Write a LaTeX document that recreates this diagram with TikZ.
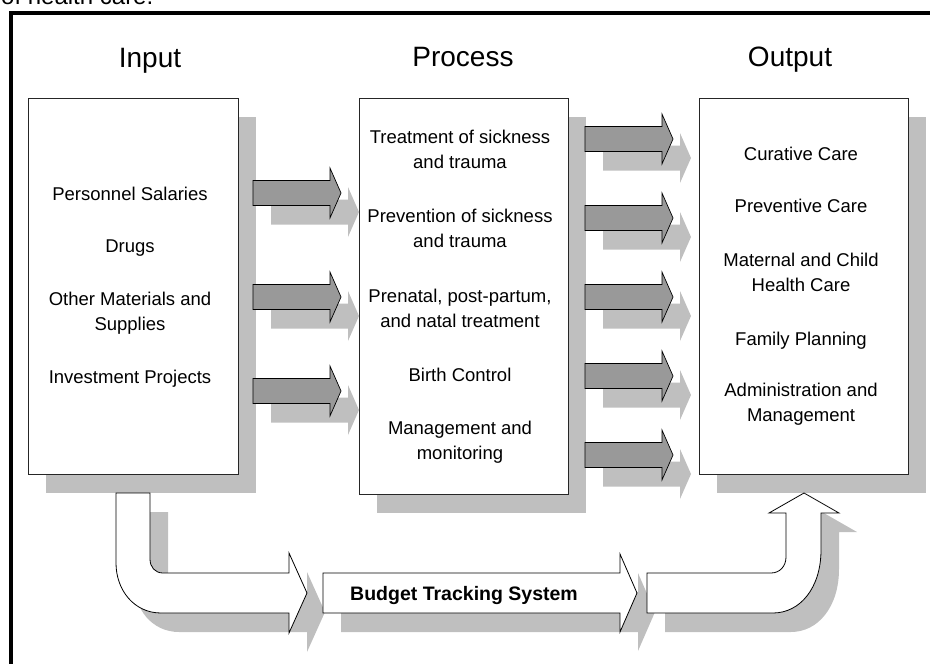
\documentclass[tikz,border=0pt]{standalone}
\usepackage{fontspec}
\setmainfont{Liberation Sans}
\usetikzlibrary{shadows}
\definecolor{shadegray}{gray}{0.75}
\definecolor{arrowgray}{gray}{0.6}
\tikzset{
  casting/.style={drop shadow={shadow xshift=18pt, shadow yshift=-19pt, fill=shadegray, opacity=1}},
  stage/.style={draw=black!85, fill=white, line width=0.8pt, inner sep=0pt, casting},
  heading/.style={anchor=north, inner sep=0pt, font=\fontsize{28}{34}\selectfont},
  entry/.style={anchor=north, inner sep=0pt, align=center, font=\fontsize{18.5}{24.5}\selectfont},
  flowarrow/.style={draw=black, line width=0.7pt, fill=arrowgray, casting},
  bigarrow/.style={draw=black, line width=0.8pt, fill=white, casting},
  flow/.pic={\path[flowarrow] (0,-12.5) -- (77,-12.5) -- (77,-25) -- (88,0) -- (77,25) -- (77,12.5) -- (0,12.5) -- cycle;}
}
\begin{document}
\begin{tikzpicture}[x=1pt, y=-1pt]
  \useasboundingbox (0,0) rectangle (930,664);
  \node[anchor=base west, inner sep=0pt, font=\fontsize{24}{28}\selectfont] (caption) at (1,4) {of health care.};
  \draw[line width=4pt] (11,700) -- (11,13) -- (960,13);

  \node[stage, minimum width=210pt, minimum height=376pt] (input) at (133,286) {};
  \node[stage, minimum width=209pt, minimum height=396pt] (process) at (463.5,296) {};
  \node[stage, minimum width=209pt, minimum height=376pt] (output) at (803.5,286) {};

  \node[heading] (inputhead) at (150,48) {Input};
  \node[heading] (processhead) at (463,47) {Process};
  \node[heading] (outputhead) at (790,47) {Output};

  \node[entry] (salaries) at (130,187) {Personnel Salaries};
  \node[entry] (drugs) at (130,240) {Drugs};
  \node[entry] (supplies) at (130,292) {Other Materials and\\Supplies};
  \node[entry] (projects) at (130,370) {Investment Projects};

  \node[entry] (treatment) at (460,130) {Treatment of sickness\\and trauma};
  \node[entry] (prevention) at (460,209) {Prevention of sickness\\and trauma};
  \node[entry] (prenatal) at (460,289) {Prenatal, post-partum,\\and natal treatment};
  \node[entry] (birth) at (460,368) {Birth Control};
  \node[entry] (monitoring) at (460,421) {Management and\\monitoring};

  \node[entry] (curative) at (801,147) {Curative Care};
  \node[entry] (preventive) at (801,199) {Preventive Care};
  \node[entry] (maternal) at (801,253) {Maternal and Child\\Health Care};
  \node[entry] (family) at (801,332) {Family Planning};
  \node[entry] (admin) at (801,383) {Administration and\\Management};

  \foreach \y in {193,297,391} \pic at (253,\y) {flow};
  \foreach \y in {139,218,297,376,455} \pic at (585,\y) {flow};

  \path[bigarrow] (116,493) -- (116,563) .. controls (116,590) and (134,613) .. (161,613) -- (289,613) -- (289,633) -- (307,593) -- (289,553) -- (289,573) -- (163,573) .. controls (155,573) and (150,567) .. (150,559) -- (150,493) -- cycle;
  \path[bigarrow] (323,573) -- (620,573) -- (620,554) -- (637,593) -- (620,632) -- (620,613) -- (323,613) -- cycle;
  \node[anchor=base, inner sep=0pt, font=\bfseries\fontsize{19.5}{24}\selectfont] (budget) at (464,600) {Budget Tracking System};
  \path[bigarrow] (647,573) -- (771,573) .. controls (780,573) and (786,566) .. (786,557) -- (786,513) -- (769,513) -- (804,493) -- (839,513) -- (821,513) -- (821,550) .. controls (821,588) and (800,613) .. (773,613) -- (647,613) -- cycle;
\end{tikzpicture}
\end{document}
